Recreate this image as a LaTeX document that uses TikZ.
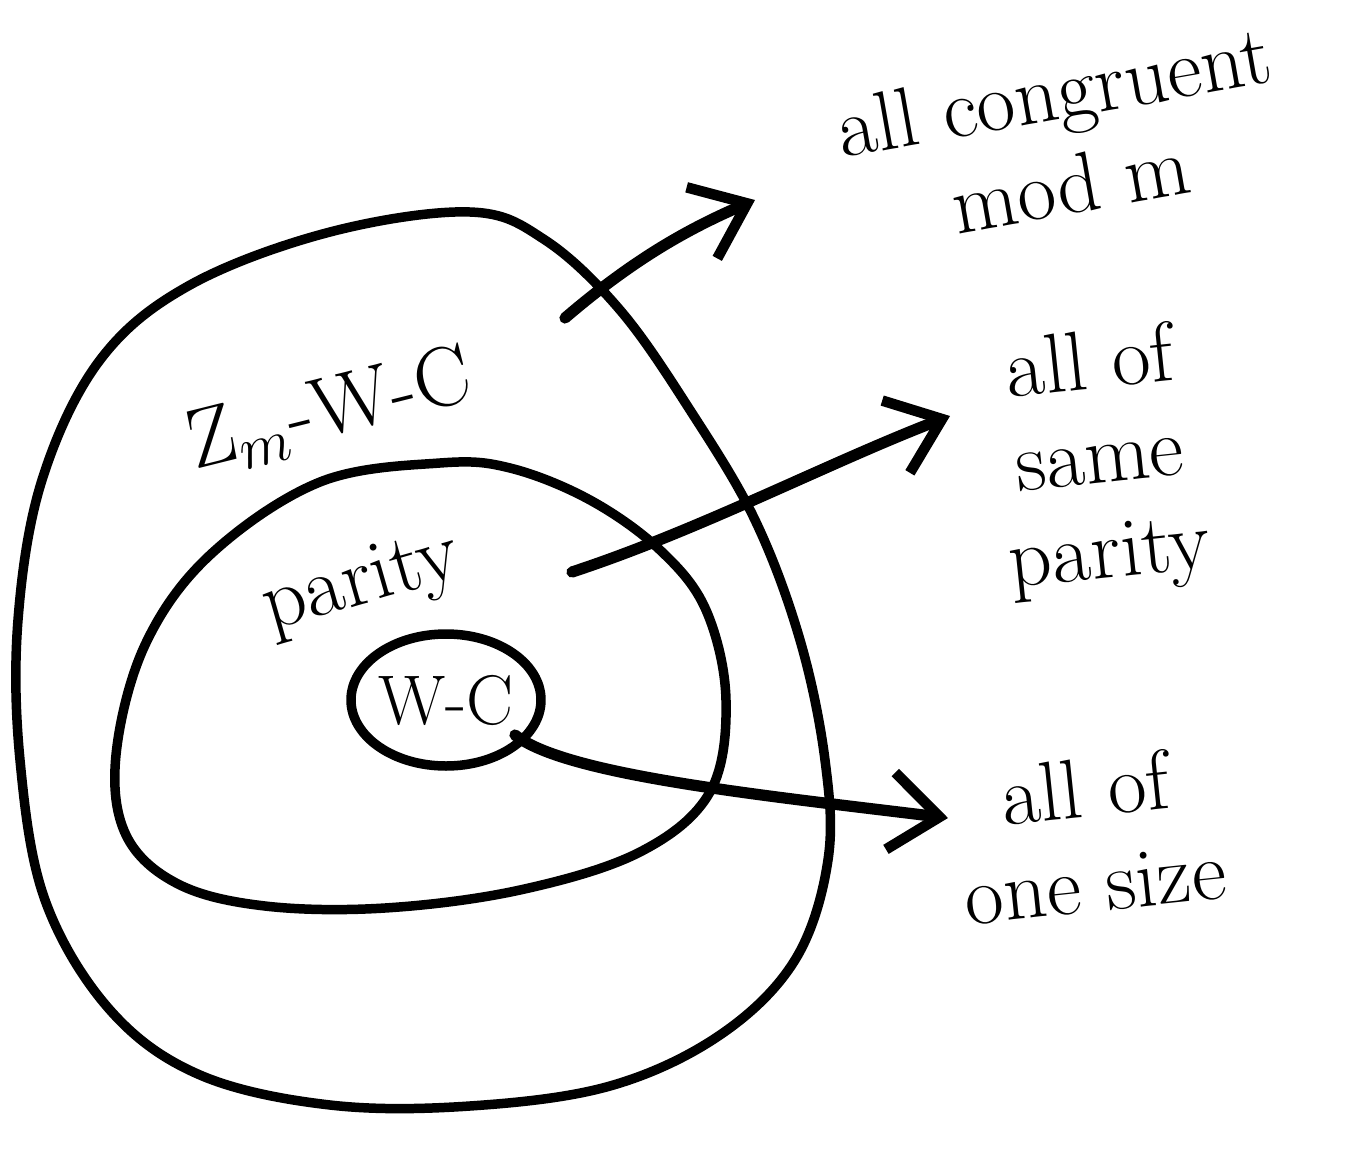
\documentclass[tikz,border=0pt]{standalone}
\usetikzlibrary{arrows.meta,positioning}

\begin{document}
\begin{tikzpicture}[x=0.01cm, y=-0.01cm, line cap=round, line join=round,
  ring/.style={line width=2.7pt},
  lbl/.style={font=\fontsize{24}{27}\selectfont, align=center, inner sep=1pt},
  arr/.style={-{Straight Barb[length=14pt, width=22pt, line width=3pt]}, line width=3.2pt}]
  \useasboundingbox (0,0) rectangle (1350,1169);

  % outer region
  \draw[ring] plot[smooth cycle, tension=0.6] coordinates {
    (470,212) (330,232) (190,285) (100,360) (42,480) (18,620) (20,760)
    (45,900) (110,1010) (200,1075) (330,1105) (470,1106) (610,1086)
    (720,1035) (795,960) (828,860) (825,760) (800,640) (755,520)
    (690,410) (620,310) (545,240)};
  % middle region
  \draw[ring] plot[smooth cycle, tension=0.6] coordinates {
    (440,463) (320,482) (210,555) (145,645) (116,755) (126,835)
    (178,884) (265,906) (385,908) (520,890) (640,852) (710,792)
    (726,700) (706,610) (660,550) (590,500) (510,468)};
  % inner region
  \draw[ring] (446,700) ellipse [x radius=95, y radius=66];

  \node[lbl, rotate=14] (zwc) at (330,412) {Z$_m$-W-C};
  \node[lbl, rotate=16] (par) at (362,585) {parity};
  \node[lbl, font=\fontsize{20}{24}\selectfont] (wc) at (446,700) {W-C};

  \node[lbl, rotate=10] (cong) at (1062,138) {all congruent\\mod m};
  \node[lbl, rotate=6] (same) at (1100,462) {all of\\same\\parity};
  \node[lbl, rotate=6] (size) at (1090,835) {all of\\one size};

  \coordinate (zwcout) at (565,318);
  \coordinate (parout) at (572,572);
  \coordinate (wcout) at (515,735);
  \coordinate (congin) at (755,200);
  \coordinate (samein) at (950,416);
  \coordinate (sizein) at (948,818);

  \draw[arr] (zwcout) .. controls (635,258) and (690,228) .. (congin);
  \draw[arr] (parout) .. controls (700,530) and (830,462) .. (samein);
  \draw[arr] (wcout) .. controls (565,775) and (760,795) .. (sizein);
\end{tikzpicture}
\end{document}
